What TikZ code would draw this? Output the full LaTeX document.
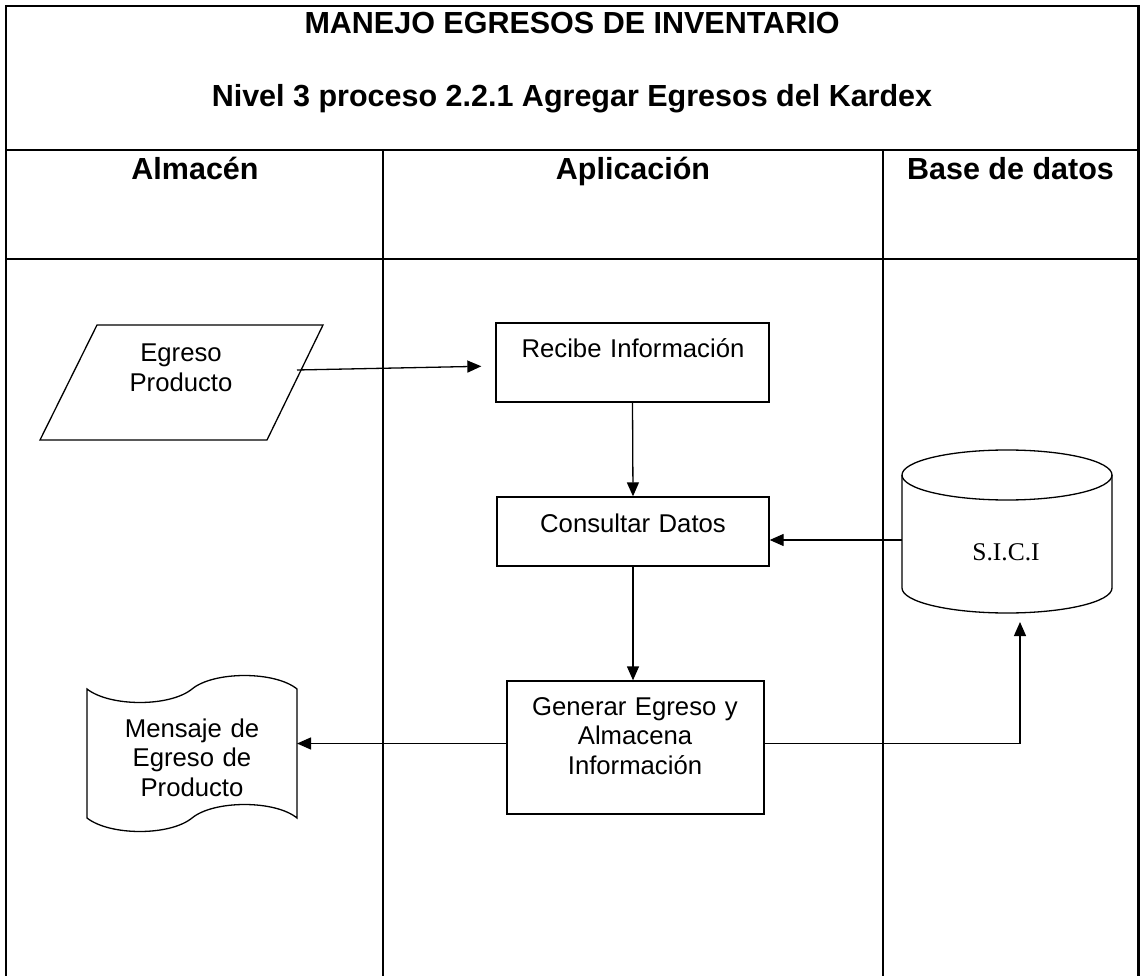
\documentclass[tikz,border=0pt]{standalone}
\usepackage{fontspec}
\setmainfont{Liberation Sans}
\newfontfamily\timesfont{Liberation Serif}
\usetikzlibrary{arrows.meta}

\begin{document}
\begin{tikzpicture}[
  x=1pt,
  y=-1pt,
  font=\fontsize{25.7}{29.5}\selectfont,
  line join=miter,
  lane line/.style={draw=black,line width=2.2pt},
  head text/.style={font=\fontsize{30.5}{36}\selectfont\bfseries,inner sep=0pt,anchor=base},
  body text/.style={inner sep=0pt,anchor=base,text width=260pt,align=center},
  shape line/.style={draw=black,line width=1.3pt},
  process box/.style={shape line,rectangle,inner sep=0pt},
  flow arrow/.style={
    draw=black,
    line width=1.3pt,
    -{Triangle[length=14pt,width=12pt]}
  }
]
  \path[use as bounding box] (0,0) rectangle (1141,976);

  % Table frame and swim lanes (open at the bottom).
  \draw[lane line] (6,976) -- (6,6) -- (1138.5,6) -- (1138.5,976);
  \foreach \laneY in {150,259}{
    \draw[lane line] (6,\laneY) -- (1138.5,\laneY);
  }
  \foreach \laneX in {383,883}{
    \draw[lane line] (\laneX,150) -- (\laneX,976);
  }

  \node[head text] (title) at (572,34) {MANEJO EGRESOS DE INVENTARIO};
  \node[head text] (subtitle) at (572,107)
    {Nivel 3 proceso 2.2.1 Agregar Egresos del Kardex};
  \node[head text] (lane almacen) at (195,180) {Almacén};
  \node[head text] (lane aplicacion) at (633,180) {Aplicación};
  \node[head text] (lane base) at (1010.5,180) {Base de datos};

  % Almacén: input and output documents.
  \draw[shape line] (97,325) -- (323,325) -- (267,440) -- (40,440) -- cycle;
  \coordinate (egreso out) at (297,370);
  \node[body text] (egreso text) at (181,362) {Egreso\\Producto};

  \draw[shape line]
    (87,689) .. controls (110,707) and (170,707) .. (192,689)
    .. controls (214,671) and (275,671) .. (297,689) -- (297,818)
    .. controls (275,800) and (214,800) .. (192,818)
    .. controls (170,836) and (110,836) .. (87,818) -- cycle;
  \coordinate (mensaje in) at (297,743.5);
  \node[body text] (mensaje text) at (192,737)
    {Mensaje de\\Egreso de\\Producto};

  % Aplicación: the three steps.
  \node[process box,minimum width=273pt,minimum height=79pt]
    (recibe) at (632.5,362.5) {};
  \node[body text] (recibe text) at (633,358) {Recibe Información};
  \node[process box,minimum width=272pt,minimum height=69pt]
    (consultar) at (633,531.5) {};
  \node[body text] (consultar text) at (633,532) {Consultar Datos};
  \node[process box,minimum width=257pt,minimum height=133pt]
    (generar) at (635.5,747.5) {};
  \node[body text] (generar text) at (635,715)
    {Generar Egreso y\\Almacena\\Información};

  % Base de datos: drum drawn by hand.
  \draw[shape line] (902,475) -- (902,588)
    arc[start angle=180,end angle=0,x radius=105,y radius=25]
    -- (1112,475);
  \draw[shape line] (1007,475) ellipse[x radius=105,y radius=25];
  \coordinate (sici left) at (902,540);
  \coordinate (sici bottom) at (1020,613);
  \node[inner sep=0pt,anchor=base,font=\fontsize{25.5}{29}\timesfont]
    (sici text) at (1006,560) {S.I.C.I};

  % Flow between the lanes.
  \draw[flow arrow,shorten >=14pt]
    (egreso out) -- ([yshift=-3.5pt]recibe.west);
  \draw[flow arrow] (recibe.south) -- (consultar.north);
  \draw[flow arrow] (sici left) -- (consultar.east |- sici left);
  \draw[flow arrow] (consultar.south) -- (consultar.south |- generar.north);
  \draw[flow arrow] ([yshift=4pt]generar.west) -- (mensaje in);
  \draw[flow arrow,shorten >=9pt]
    ([yshift=4pt]generar.east) -| (sici bottom);
\end{tikzpicture}
\end{document}
